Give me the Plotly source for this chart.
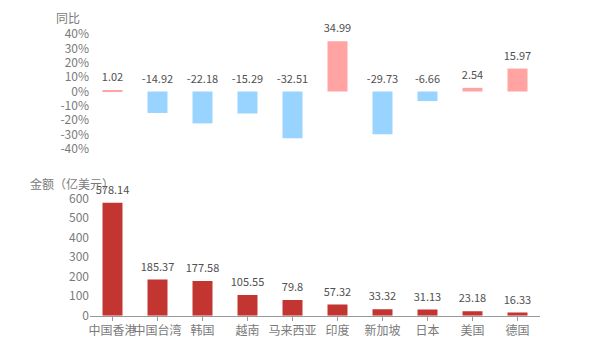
import plotly.graph_objects as go

categories = ["中国香港", "中国台湾", "韩国", "越南", "马来西亚", "印度", "新加坡", "日本", "美国", "德国"]
yoy = [1.02, -14.92, -22.18, -15.29, -32.51, 34.99, -29.73, -6.66, 2.54, 15.97]
amount = [578.14, 185.37, 177.58, 105.55, 79.8, 57.32, 33.32, 31.13, 23.18, 16.33]
yoy_ticks = [40, 30, 20, 10, 0, -10, -20, -30, -40]
amount_ticks = [0, 100, 200, 300, 400, 500, 600]

FONT = "Noto Sans CJK SC, Microsoft YaHei, sans-serif"
POS = "#FFA3A3"
NEG = "#99D3FF"
RED = "#C23531"
TICK = "#7A7A7A"
LABEL = "#505050"

fig = go.Figure()

fig.add_trace(go.Bar(
    x=categories, y=yoy, xaxis="x2", yaxis="y2",
    marker=dict(color=[POS if v >= 0 else NEG for v in yoy], line=dict(width=0)),
    hoverinfo="skip", showlegend=False,
))
fig.add_trace(go.Scatter(
    x=categories, y=[max(v, 0) for v in yoy], xaxis="x2", yaxis="y2",
    mode="markers+text", marker=dict(size=8, opacity=0),
    text=[f"{v:g}" for v in yoy], textposition="top center",
    textfont=dict(size=11, color=LABEL, family=FONT),
    cliponaxis=False, hoverinfo="skip", showlegend=False,
))

fig.add_trace(go.Bar(
    x=categories, y=amount, xaxis="x", yaxis="y",
    marker=dict(color=RED, line=dict(width=0)),
    hoverinfo="skip", showlegend=False,
))
fig.add_trace(go.Scatter(
    x=categories, y=amount, xaxis="x", yaxis="y",
    mode="markers+text", marker=dict(size=8, opacity=0),
    text=[f"{v:g}" for v in amount], textposition="top center",
    textfont=dict(size=11, color=LABEL, family=FONT),
    cliponaxis=False, hoverinfo="skip", showlegend=False,
))

H = 350.0
n = len(categories)
fig.update_layout(
    width=600, height=350,
    margin=dict(l=90, r=60, t=0, b=0),
    paper_bgcolor="white", plot_bgcolor="white",
    bargap=0.556,
    font=dict(family=FONT, size=12, color=TICK),
    xaxis=dict(
        domain=[0, 1], type="category", showgrid=False,
        range=[-0.5, n - 0.5],
        showline=True, linecolor="#999", linewidth=1,
        ticks="outside", ticklen=4, tickcolor="#999",
        tickangle=0,
        tickfont=dict(size=12, color=TICK),
        automargin=False, fixedrange=True,
    ),
    yaxis=dict(
        domain=[(H - 315.7) / H, (H - 198.5) / H],
        range=[0, 600], tickvals=amount_ticks, showgrid=False,
        zeroline=False, showline=False, ticks="",
        tickfont=dict(size=12, color=TICK),
        automargin=False, fixedrange=True,
    ),
    xaxis2=dict(
        domain=[0, 1], type="category", anchor="y2", visible=False,
        range=[-0.5, n - 0.5], fixedrange=True,
    ),
    yaxis2=dict(
        domain=[(H - 149) / H, (H - 34) / H],
        range=[-40, 40], tickvals=yoy_ticks,
        ticktext=[f"{t}%" for t in yoy_ticks], showgrid=False,
        zeroline=False, showline=False, ticks="",
        tickfont=dict(size=12, color=TICK),
        automargin=False, fixedrange=True,
    ),
    annotations=[
        dict(text="同比", xref="paper", yref="paper", x=-8 / 450, y=(H - 18) / H,
             xanchor="right", yanchor="middle", showarrow=False,
             font=dict(size=12, color=TICK)),
        dict(text="金额（亿美元）", xref="paper", yref="paper", x=-62 / 450, y=(H - 183) / H,
             xanchor="left", yanchor="middle", showarrow=False,
             font=dict(size=12, color=TICK)),
    ],
)

fig.write_html("out.html")
